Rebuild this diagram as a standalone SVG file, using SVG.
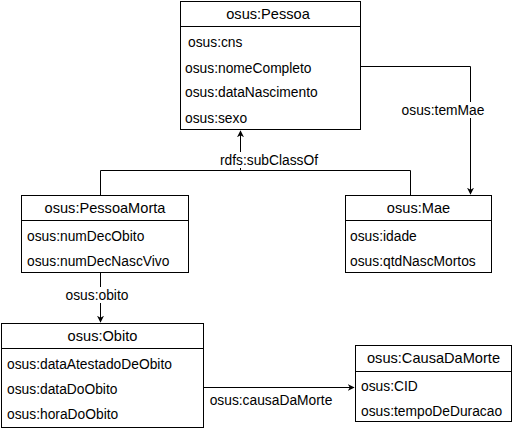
<svg xmlns="http://www.w3.org/2000/svg" width="514" height="430" viewBox="0 0 514 430">
<style>
text{font-family:"Liberation Sans",Arial,sans-serif;font-size:13.8px;fill:#000}
.t{text-anchor:middle;font-size:14.6px}
.box{fill:#fff;stroke:#000;stroke-width:1}
.e{fill:none;stroke:#000;stroke-width:1}
.lbl{text-anchor:middle;font-size:13.8px}
</style>
<defs>
<marker id="ar" viewBox="0 0 10 10" refX="9" refY="5" markerWidth="7" markerHeight="7" orient="auto" markerUnits="userSpaceOnUse">
<path d="M0,0 L10,5 L0,10 L3,5 Z" fill="#000"/>
</marker>
</defs>
<rect width="514" height="430" fill="#fff"/>
<g id="connectors">
<path class="e" d="M360.5,66.5 H470.5 V194" marker-end="url(#ar)"/>
<rect x="398" y="102" width="92" height="16" fill="#fff"/>
<text class="lbl" x="443" y="115">osus:temMae</text>
<path class="e" d="M100.5,195 V170.5 H410.5 V195"/>
<path class="e" d="M240.5,170.5 V131" marker-end="url(#ar)"/>
<rect x="214" y="152" width="110" height="16" fill="#fff"/>
<text class="lbl" x="269" y="165">rdfs:subClassOf</text>
<path class="e" d="M100.5,273 V322" marker-end="url(#ar)"/>
<rect x="58" y="287" width="80" height="16" fill="#fff"/>
<text class="lbl" x="97" y="300">osus:obito</text>
<path class="e" d="M203.5,387.5 H354" marker-end="url(#ar)"/>
<text class="lbl" x="271" y="405">osus:causaDaMorte</text>
</g>
<g id="Pessoa">
<rect class="box" x="180.5" y="1.5" width="180" height="128"/>
<line class="e" x1="180.5" y1="26.5" x2="360.5" y2="26.5"/>
<text class="t" x="268" y="19">osus:Pessoa</text>
<text x="188" y="47">osus:cns</text>
<text x="185" y="73">osus:nomeCompleto</text>
<text x="185" y="97">osus:dataNascimento</text>
<text x="185" y="123">osus:sexo</text>
</g>
<g id="PessoaMorta">
<rect class="box" x="21.5" y="195.5" width="167" height="77"/>
<line class="e" x1="21.5" y1="220.5" x2="188.5" y2="220.5"/>
<text class="t" x="105" y="213">osus:PessoaMorta</text>
<text x="27" y="241">osus:numDecObito</text>
<text x="27" y="266">osus:numDecNascVivo</text>
</g>
<g id="Mae">
<rect class="box" x="345.5" y="195.5" width="146" height="77"/>
<line class="e" x1="345.5" y1="220.5" x2="491.5" y2="220.5"/>
<text class="t" x="418.5" y="213">osus:Mae</text>
<text x="350" y="241">osus:idade</text>
<text x="350" y="266">osus:qtdNascMortos</text>
</g>
<g id="Obito">
<rect class="box" x="1.5" y="323.5" width="202" height="104"/>
<line class="e" x1="1.5" y1="348.5" x2="203.5" y2="348.5"/>
<text class="t" x="102.5" y="341">osus:Obito</text>
<text x="7" y="369">osus:dataAtestadoDeObito</text>
<text x="7" y="394">osus:dataDoObito</text>
<text x="7" y="419">osus:horaDoObito</text>
</g>
<g id="CausaDaMorte">
<rect class="box" x="355.5" y="345.5" width="156" height="76"/>
<line class="e" x1="355.5" y1="371.5" x2="511.5" y2="371.5"/>
<text class="t" x="433.5" y="363">osus:CausaDaMorte</text>
<text x="361" y="391">osus:CID</text>
<text x="361" y="416">osus:tempoDeDuracao</text>
</g>
</svg>
